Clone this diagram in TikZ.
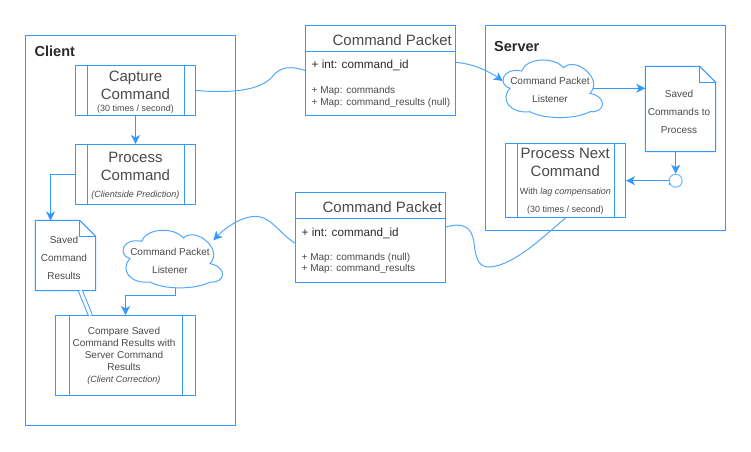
\documentclass[tikz,border=0pt]{standalone}
\usepackage{fontspec}
\setmainfont{Liberation Sans}
\usetikzlibrary{arrows.meta}
\definecolor{edge}{HTML}{3399FF}
\definecolor{ink}{HTML}{4A4A4A}
\definecolor{inkd}{HTML}{2A2A2A}
\newcommand{\fs}[1]{\fontsize{#1}{#1}\selectfont}
\tikzset{
  box/.style={draw=edge,line width=1pt,inner sep=0pt,fill=white},
  frame/.style={draw=edge,line width=1pt,inner sep=0pt},
  ghost/.style={inner sep=0pt},
  link/.style={draw=edge,line width=1pt,-{Stealth[length=9pt,width=9pt,inset=2.5pt]}},
  wire/.style={draw=edge!85,line width=1pt},
  wirea/.style={wire,-{Stealth[length=9pt,width=9pt,inset=2.5pt,color=edge]}},
  big/.style={text=ink,font=\fontsize{15}{18}\selectfont,align=center,inner sep=0pt},
  mid/.style={text=ink,font=\fontsize{10}{18}\selectfont,align=center,inner sep=0pt},
  tight/.style={text=ink,font=\fontsize{10}{12}\selectfont,align=center,inner sep=0pt},
  small/.style={text=ink,font=\fs{9},inner sep=0pt},
  title/.style={text=inkd,font=\bfseries\fs{14.5},inner sep=0pt,anchor=west},
  field/.style={text=inkd,font=\fs{11.7},inner sep=0pt,anchor=west},
  mapf/.style={text=ink,font=\fs{10},inner sep=0pt,anchor=west},
  head/.style={text=ink,font=\fs{15},inner sep=0pt,anchor=east},
}
\newcommand{\bars}[2]{\draw[edge,line width=1pt] ([xshift=#2pt]#1.north west)--([xshift=#2pt]#1.south west) ([xshift=-#2pt]#1.north east)--([xshift=-#2pt]#1.south east);}
\newcommand{\docfold}[1]{\draw[edge,line width=1pt,fill=white] (#1.north west)--([xshift=-16pt]#1.north east)--([yshift=-16pt]#1.north east)--(#1.south east)--(#1.south west)--cycle;
 \draw[edge,line width=.8pt] ([xshift=-16pt]#1.north east)--([xshift=-16pt,yshift=-16pt]#1.north east)--([yshift=-16pt]#1.north east);}
\newcommand{\cloudline}[1]{\draw[edge!85,line width=1pt,fill=white,shift={(#1.center)}]
 (-41.7,-.7) .. controls (-54,-4) and (-50,-22) .. (-30,-18)
 .. controls (-26,-31) and (2,-33) .. (11.7,-21.3)
 .. controls (24,-33) and (52,-10) .. (38.3,4.3)
 .. controls (56,8) and (54,24) .. (38.3,22.7)
 .. controls (24,30.5) and (-8,30.5) .. (-21.7,22.7)
 .. controls (-42,25) and (-52,10) .. (-41.7,-.7) -- cycle;}
\begin{document}
\begin{tikzpicture}[x=1pt,y=-1pt]
\useasboundingbox[fill=white] (0,0) rectangle (751,451);
% frames
\node[frame,minimum width=210pt,minimum height=390pt] (client) at (130.5,230.5) {};
\node[frame,minimum width=240pt,minimum height=205pt] (server) at (605.5,128) {};
\node[title] (clientT) at (34.5,51.3) {Client};
\node[title] (serverT) at (494,46.7) {Server};
% client shapes
\node[box,minimum width=120pt,minimum height=50pt] (capture) at (135.5,90.5) {};
\bars{capture}{12}
\node[box,minimum width=120pt,minimum height=60pt] (process) at (135.5,174.5) {};
\bars{process}{12}
\node[ghost,minimum width=60pt,minimum height=70pt] (docC) at (65.5,255.5) {};
\docfold{docC}
\node[ghost,minimum width=100pt,minimum height=56pt] (cloudC) at (171.7,259.3) {};
\cloudline{cloudC}
\node[box,minimum width=140pt,minimum height=80pt] (compare) at (125.5,355.5) {};
\bars{compare}{14}
% server shapes
\node[ghost,minimum width=100pt,minimum height=56pt] (cloudS) at (551.7,89) {};
\cloudline{cloudS}
\node[ghost,minimum width=70pt,minimum height=85pt] (docS) at (680.5,109) {};
\docfold{docS}
\node[box,minimum width=120pt,minimum height=74pt] (next) at (565.5,180.5) {};
\bars{next}{12}
\node[draw=edge!70,line width=1pt,circle,minimum size=13pt,inner sep=0pt] (loop) at (675.7,180.7) {};
\fill[white] (667,181.5) rectangle (669.2,185.5);
\fill[edge!80] (669.3,183.3) rectangle (671.3,185.3);
% packets
\node[box,minimum width=150pt,minimum height=90pt] (packetA) at (380.5,70.5) {};
\draw[edge,line width=1pt] ([yshift=-26pt]packetA.north west)--([yshift=-26pt]packetA.north east);
\node[box,minimum width=150pt,minimum height=90pt] (packetB) at (370.5,237.5) {};
\draw[edge,line width=1pt] ([yshift=-26pt]packetB.north west)--([yshift=-26pt]packetB.north east);
% port coordinates
\coordinate (cloudSin) at ([shift={(-49,-8)}]cloudS.center);
\coordinate (cloudSout) at (593.3,88.3);
\coordinate (docSin) at (docS.west |- cloudSout);
\coordinate (cloudCin) at ([shift={(41.6,-19)}]cloudC.center);
\coordinate (cloudCout) at (175.3,287.7);
\coordinate (docCin) at (50.5,220.5);
\coordinate (packetAout) at (455.5,62.3);
\coordinate (packetBout) at (445.5,227.2);
\coordinate (packetBin) at (295.5,243.3);
\coordinate (dblA) at (80.3,290.5);
\coordinate (dblB) at (90.5,315.5);
% connectors
\draw[link] (capture.south) -- (process.north);
\draw[link] (process.west) -| (docCin);
\draw[link] (cloudCout) -- ++(0,7.8) -| (compare.north);
\draw[edge,line width=.9pt,double=white,double distance=3pt] (dblA) -- (dblB);
\draw[link] (cloudSout) -- (docSin);
\draw[link] (loop.north |- docS.south) -- (loop.north);
\draw[link] (loop.west) -- (next.east |- loop.west);
\draw[wire] (capture.east) .. controls (240,94) and (262,88) .. (272,77) .. controls (280,66) and (292,66) .. (packetA.west);
\draw[wirea] (packetAout) .. controls (475,64) and (490,72) .. (cloudSin);
\draw[wire] (next.south) .. controls (545,235) and (515,265) .. (490,267) .. controls (480,267) and (476,262) .. (474,243) .. controls (472,226) and (462,222) .. (packetBout);
\draw[wirea] (packetBin) .. controls (282,236) and (272,218) .. (258,216.5) .. controls (243,215) and (225,228) .. (cloudCin);
% text
\node[big] (captureT) at (135.5,85.5) {Capture\\Command};
\node[small] (captureS) at (135.5,109) {(30 times / second)};
\node[big] (processT) at (135.5,166) {Process\\Command};
\node[small] (processS) at (135.5,194.7) {\itshape (Clientside Prediction)};
\node[mid] (docCT) at (64,257.5) {Saved\\Command\\Results};
\node[mid] (cloudCT) at (170,260.7) {Command Packet\\Listener};
\node[tight] (compareT) at (124,355.7) {Compare Saved\\Command Results with\\Server Command\\Results\\\itshape\fs{9}(Client Correction)};
\node[mid] (cloudST) at (550,89.7) {Command Packet\\Listener};
\node[mid] (docST) at (679,111.7) {Saved\\Commands to\\Process};
\node[big] (nextT) at (565.3,162.7) {Process Next\\Command};
\node[small] (nextA) at (565.3,191.7) {With \itshape lag compensation};
\node[small] (nextB) at (565.3,209.7) {(30 times / second)};
\node[head] (packetAT) at (452,40) {Command Packet};
\node[field] (packetAF) at (311.5,65.6) {+ int: command\_id};
\node[mapf] (packetAM) at (311.5,90.5) {+ Map: commands};
\node[mapf] (packetAR) at (311.5,102.5) {+ Map: command\_results (null)};
\node[head] (packetBT) at (442,206.7) {Command Packet};
\node[field] (packetBF) at (301.5,233) {+ int: command\_id};
\node[mapf] (packetBM) at (301.5,257.7) {+ Map: commands (null)};
\node[mapf] (packetBR) at (301.5,269.3) {+ Map: command\_results};
\end{tikzpicture}
\end{document}
